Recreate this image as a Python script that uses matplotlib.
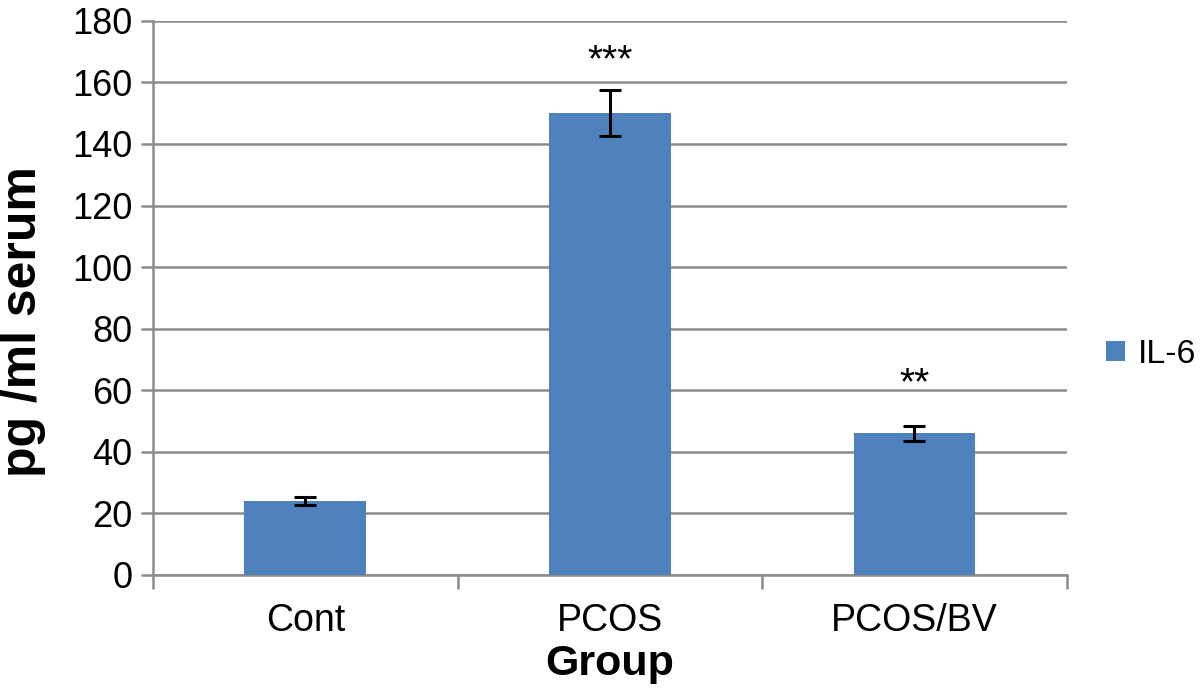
import matplotlib
matplotlib.use('Agg')
import matplotlib.pyplot as plt
import numpy as np

groups = ['Cont', 'PCOS', 'PCOS/BV']
il6 = [24, 150, 46]
il6_err = [1.3, 7.5, 2.5]
stars = ['', '***', '**']

plt.rcParams['font.family'] = ['Liberation Sans', 'DejaVu Sans']

fig = plt.figure(figsize=(12, 6.95), dpi=100)
ax = fig.add_axes([0.1275, 0.1727, 0.7615, 0.7973])

x = np.arange(len(groups))
ax.bar(x, il6, width=0.4, color='#4f81bd', label='IL-6', zorder=3)
ax.errorbar(x, il6, yerr=il6_err, fmt='none', ecolor='black', elinewidth=2.2,
            capsize=8, capthick=2.2, zorder=4)
# star heights above the error bar, as in the original figure
star_gap = [0, 9.5, 13.5]
for xi, v, e, s, g in zip(x, il6, il6_err, stars, star_gap):
    if s:
        ax.text(xi, v + e + g, s, ha='center', va='center', fontsize=28)

ax.set_xlim(-0.5, len(groups) - 0.5)
ax.set_ylim(0, 180)
ax.set_yticks(range(0, 181, 20))
ax.yaxis.grid(True, color='#8c8c8c', linewidth=1.8, zorder=0)
ax.set_axisbelow(True)

ax.set_xticks(np.arange(len(groups) + 1) - 0.5, minor=False)
ax.set_xticklabels([''] * (len(groups) + 1))
ax.set_xticks(x, minor=True)
ax.set_xticklabels(groups, minor=True)
ax.tick_params(axis='x', which='major', length=10, width=1.8, color='#8c8c8c')
ax.tick_params(axis='x', which='minor', length=0, labelsize=27, pad=20)
ax.tick_params(axis='y', length=9, width=1.8, color='#8c8c8c', labelsize=26, pad=6)

for side in ['top', 'right']:
    ax.spines[side].set_visible(False)
for side in ['left', 'bottom']:
    ax.spines[side].set_color('#8c8c8c')
    ax.spines[side].set_linewidth(1.8)

ax.set_ylabel('pg /ml serum', fontsize=36, fontweight='bold')
ax.yaxis.set_label_coords(-0.117, 0.458)
ax.set_xlabel('Group', fontsize=31, fontweight='bold')
ax.xaxis.set_label_coords(0.5, -0.125)

fig.legend(loc='center left', bbox_to_anchor=(0.896, 0.49), frameon=False,
           fontsize=24.5, handlelength=0.55, handleheight=0.55, handletextpad=0.4)

fig.savefig('out.png', dpi=100, facecolor='white')
